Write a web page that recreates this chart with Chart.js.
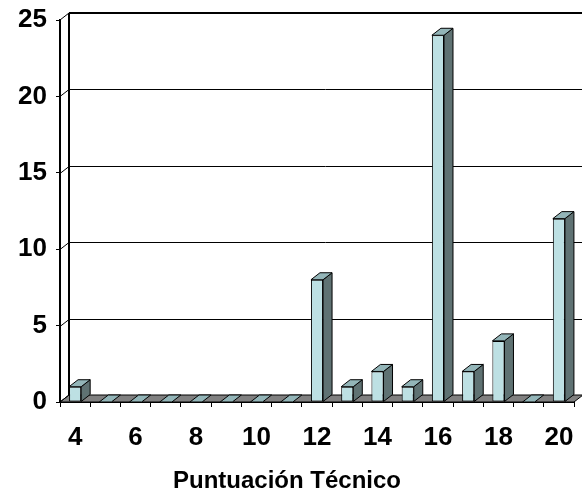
<!DOCTYPE html>
<html>
<head>
<meta charset="utf-8">
<script src="https://cdn.jsdelivr.net/npm/chart.js@4/dist/chart.umd.min.js"></script>
<style>
  html, body { margin: 0; padding: 0; background: #ffffff; }
  #wrap { width: 582px; height: 498px; }
</style>
</head>
<body>
<div id="wrap"><canvas id="c" width="582" height="498"></canvas></div>
<script>
// Score categories and number of results per score
const scores = ['4','5','6','7','8','9','10','11','12','13','14','15','16','17','18','19','20'];
const counts = [1, 0, 0, 0, 0, 0, 0, 0, 8, 1, 2, 1, 24, 2, 4, 0, 12];
const yMax = 25;
const yStep = 5;
const axisTitle = 'Puntuación Técnico';

// Box colours and depth offset of the pseudo-3D look
const FRONT = '#bde0e3';
const SIDE = '#5f7273';
const TOP = '#93b5b8';
const FLOOR = '#808080';
const DX = 9, DY = -7;

function poly(ctx, pts, fill) {
  ctx.beginPath();
  ctx.moveTo(pts[0][0], pts[0][1]);
  for (let i = 1; i < pts.length; i++) ctx.lineTo(pts[i][0], pts[i][1]);
  ctx.closePath();
  ctx.fillStyle = fill;
  ctx.fill();
  ctx.stroke();
}

const depth3d = {
  id: 'depth3d',
  beforeDatasetsDraw(chart) {
    const { ctx, chartArea: a, scales: { y } } = chart;
    const W = chart.width;
    ctx.save();
    ctx.strokeStyle = '#000';
    ctx.lineWidth = 1;
    // floor
    poly(ctx, [[a.left, a.bottom], [a.right, a.bottom], [a.right + DX, a.bottom + DY], [a.left + DX, a.bottom + DY]], FLOOR);
    // back-wall gridlines with their connectors to the front axis
    for (let v = yStep; v < yMax; v += yStep) {
      const py = Math.round(y.getPixelForValue(v)) + 0.5;
      ctx.beginPath();
      ctx.moveTo(a.left, py);
      ctx.lineTo(a.left + DX, py + DY);
      ctx.lineTo(W, py + DY);
      ctx.stroke();
    }
    const pt = Math.round(y.getPixelForValue(yMax));
    ctx.beginPath();
    ctx.moveTo(a.left, pt);
    ctx.lineTo(a.left + DX, pt + DY);
    ctx.stroke();
    ctx.beginPath();
    ctx.moveTo(a.left, a.bottom);
    ctx.lineTo(a.left + DX, a.bottom + DY);
    ctx.stroke();
    // wall top edge and left edge
    ctx.lineWidth = 2;
    ctx.beginPath();
    ctx.moveTo(a.left + DX, pt + DY);
    ctx.lineTo(W, pt + DY);
    ctx.moveTo(a.left + DX, pt + DY);
    ctx.lineTo(a.left + DX, a.bottom + DY);
    ctx.stroke();
    ctx.restore();
  },
  afterDatasetsDraw(chart) {
    const { ctx } = chart;
    const meta = chart.getDatasetMeta(0);
    ctx.save();
    ctx.strokeStyle = '#000';
    ctx.lineWidth = 1;
    ctx.lineJoin = 'miter';
    meta.data.forEach(bar => {
      const { x, y, base, width } = bar.getProps(['x', 'y', 'base', 'width'], true);
      const l = x - width / 2, r = x + width / 2;
      if (base - y > 0.5) {
        poly(ctx, [[r, y], [r + DX, y + DY], [r + DX, base + DY], [r, base]], SIDE);
      }
      poly(ctx, [[l, y], [r, y], [r + DX, y + DY], [l + DX, y + DY]], TOP);
    });
    ctx.restore();
  }
};

const tickFont = { family: '"Liberation Sans", Arial, sans-serif', size: 26, weight: 'bold' };

new Chart(document.getElementById('c'), {
  type: 'bar',
  data: {
    labels: scores,
    datasets: [{
      data: counts,
      backgroundColor: FRONT,
      borderColor: '#000',
      borderWidth: 1,
      borderSkipped: false,
      barPercentage: 0.4,
      categoryPercentage: 1.0
    }]
  },
  options: {
    responsive: false,
    animation: false,
    devicePixelRatio: 1,
    layout: { padding: { top: 20, right: 8, left: 0, bottom: 0 } },
    plugins: {
      legend: { display: false },
      tooltip: { enabled: false },
      title: {
        display: true,
        position: 'bottom',
        text: axisTitle,
        color: '#000',
        font: { family: '"Liberation Sans", Arial, sans-serif', size: 24, weight: 'bold', lineHeight: 1.2 },
        padding: { top: 0, bottom: 2 }
      }
    },
    scales: {
      x: {
        afterFit: s => { s.height = 96 - 30.8; s.paddingLeft = 0; s.paddingRight = 0; },
        grid: { display: true, offset: true, drawOnChartArea: false, drawTicks: true, tickLength: 5, color: '#000', lineWidth: 1 },
        border: { display: true, color: '#000', width: 2 },
        ticks: {
          autoSkip: false,
          maxRotation: 0,
          padding: 15,
          color: '#000',
          font: tickFont,
          callback: (v, i) => (i % 2 === 0 ? scores[i] : '')
        }
      },
      y: {
        min: 0,
        max: yMax,
        afterFit: s => { s.width = 60; s.paddingTop = 0; s.paddingBottom = 0; },
        grid: { display: true, drawOnChartArea: false, drawTicks: true, tickLength: 4, color: '#000', lineWidth: 1 },
        border: { display: true, color: '#000', width: 2 },
        ticks: {
          stepSize: yStep,
          padding: 9,
          color: '#000',
          font: tickFont
        }
      }
    }
  },
  plugins: [depth3d]
});
</script>
</body>
</html>
